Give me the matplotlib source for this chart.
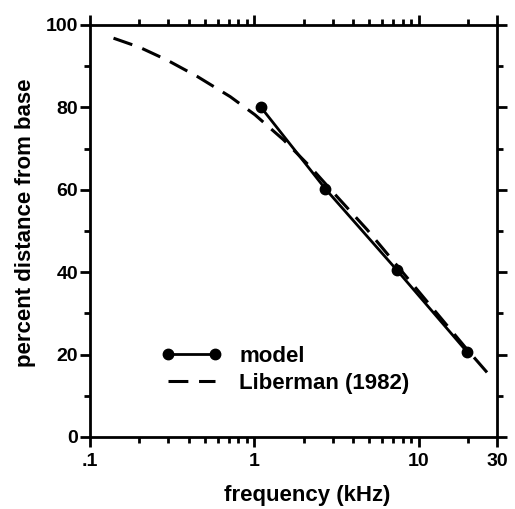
import matplotlib
matplotlib.use("Agg")
import matplotlib.pyplot as plt
from matplotlib.ticker import FixedLocator, NullFormatter

# model points
model_freq = [1.1, 2.7, 7.35, 19.8]
model_pos = [80.0, 60.3, 40.6, 20.6]

# Liberman (1982) curve
lib_freq = [0.139, 0.2, 0.294, 0.45, 0.714, 1.01, 1.51, 2.19, 3.05, 4.87, 7.77, 12.4, 19.8, 26.9]
lib_pos = [96.8, 94.6, 91.5, 87.5, 82.6, 78.2, 72.1, 65.6, 59.2, 50.3, 40.6, 30.9, 21.2, 15.1]

x_major = [0.1, 1, 10, 30]
x_labels = [".1", "1", "10", "30"]
x_minor = [0.2, 0.3, 0.4, 0.5, 0.6, 0.7, 0.8, 0.9, 2, 3, 4, 5, 6, 7, 8, 9, 20]
y_major = [0, 20, 40, 60, 80, 100]
y_minor = [10, 30, 50, 70, 90]

plt.rcParams['font.family'] = ['Liberation Sans', 'DejaVu Sans']
plt.rcParams['font.weight'] = 'bold'

fig = plt.figure(figsize=(5.15, 5.09), dpi=100)
ax = fig.add_axes([0.1748, 0.1415, 0.790, 0.8094])

ax.plot(model_freq, model_pos, color='black', lw=2, marker='o', ms=7.5, label='model')
ax.plot(lib_freq, lib_pos, color='black', lw=2.2, ls=(0, (6.5, 3.5)), label='Liberman (1982)')

ax.set_xscale('log')
ax.set_xlim(0.1, 30)
ax.set_ylim(0, 100)

ax.xaxis.set_major_locator(FixedLocator(x_major))
ax.set_xticklabels(x_labels)
ax.xaxis.set_minor_locator(FixedLocator(x_minor))
ax.xaxis.set_minor_formatter(NullFormatter())
ax.set_yticks(y_major)
ax.set_yticks(y_minor, minor=True)

ax.tick_params(which='both', direction='out', top=True, right=True, width=2, labelsize=14)
ax.tick_params(which='major', length=7.5)
ax.tick_params(which='minor', length=4.5)
ax.tick_params(axis='x', pad=4)
ax.tick_params(axis='y', pad=1)
for s in ax.spines.values():
    s.set_linewidth(2)

ax.set_xlabel('frequency (kHz)', fontsize=16, fontweight='bold', labelpad=11)
ax.set_ylabel('percent distance from base', fontsize=16, fontweight='bold', labelpad=7)
ax.xaxis.label.set_x(0.533)
ax.yaxis.label.set_y(0.52)

ax.legend(loc='lower left', bbox_to_anchor=(0.176, 0.105), frameon=False, fontsize=16,
          numpoints=2, handlelength=2.7, handletextpad=0.8, labelspacing=0.25,
          borderaxespad=0, borderpad=0)

fig.savefig('out.png', dpi=100)
